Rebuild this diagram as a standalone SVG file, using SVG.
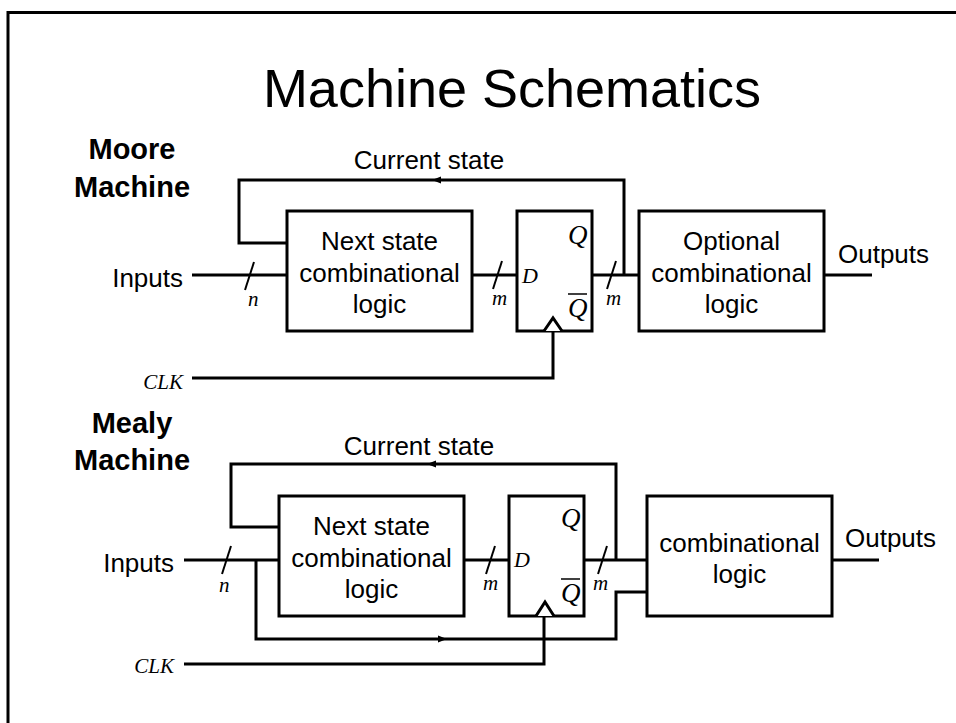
<svg xmlns="http://www.w3.org/2000/svg" width="956" height="723" viewBox="0 0 956 723">
<style>
.frame{fill:none;stroke:#000;stroke-width:3}
.box{fill:#fff;stroke:#000;stroke-width:3}
.w{fill:none;stroke:#000;stroke-width:3}
.sl{fill:none;stroke:#000;stroke-width:2}
.t{font-family:"Liberation Sans",Arial,sans-serif;font-size:26px;fill:#000}
.c{text-anchor:middle}
.r{text-anchor:end}
.b{font-family:"Liberation Sans",Arial,sans-serif;font-weight:bold;font-size:29px;fill:#000;text-anchor:middle}
.i{font-family:"Liberation Serif","Times New Roman",serif;font-style:italic;fill:#000}
.ah{fill:#000}
</style>
<rect width="956" height="723" fill="#fff"/>
<path class="frame" d="M8,723 V12.5 H956"/>
<text x="512" y="107" class="t c" style="font-size:54px">Machine Schematics</text>

<g id="moore">
  <g id="moore-label"><text x="132" y="159" class="b">Moore</text><text x="132" y="197" class="b">Machine</text></g>
  <g id="moore-connectors">
    <path class="w" d="M192,275 H287"/>
    <path class="w" d="M472,275 H517"/>
    <path class="w" d="M592,275 H639"/>
    <path class="w" d="M624,275 V180 H239 V243 H287"/>
    <path class="w" d="M192,378 H553 V331"/>
    <path class="w" d="M824,275 H872"/>
    <path class="ah" d="M432,180 L441,176.5 L441,183.5 Z"/>
    <path class="sl" d="M254,262 L245,290"/>
    <path class="sl" d="M502,261 L493,289"/>
    <path class="sl" d="M616,261 L607,289"/>
  </g>
  <g id="moore-inputs"><text x="183" y="287" class="t r">Inputs</text><text x="248" y="306" class="i" style="font-size:21px">n</text></g>
  <g id="moore-clk"><text x="183" y="389" class="i r" style="font-size:21px">CLK</text></g>
  <text x="429" y="169" class="t c">Current state</text>
  <text x="492" y="305" class="i" style="font-size:21px">m</text>
  <text x="606" y="305" class="i" style="font-size:21px">m</text>
  <g id="moore-next">
    <rect class="box" x="287" y="211" width="185" height="120"/>
    <text x="379.5" y="250" class="t c">Next state</text>
    <text x="379.5" y="282" class="t c">combinational</text>
    <text x="379.5" y="313" class="t c">logic</text>
  </g>
  <g id="moore-ff">
    <rect class="box" x="517" y="211" width="75" height="120"/>
    <path class="box" d="M544,331 L553,318 L562,331"/>
    <text x="522" y="283" class="i" style="font-size:22px">D</text>
    <text x="568" y="244" class="i" style="font-size:27px">Q</text>
    <text x="568" y="317" class="i" style="font-size:27px">Q</text>
    <path class="sl" d="M568,294 H587" style="stroke-width:1.5"/>
  </g>
  <g id="moore-out">
    <rect class="box" x="639" y="211" width="185" height="120"/>
    <text x="731.5" y="250" class="t c">Optional</text>
    <text x="731.5" y="282" class="t c">combinational</text>
    <text x="731.5" y="313" class="t c">logic</text>
  </g>
  <text x="838" y="263" class="t">Outputs</text>
</g>

<g id="mealy">
  <g id="mealy-label"><text x="132" y="433" class="b">Mealy</text><text x="132" y="470" class="b">Machine</text></g>
  <g id="mealy-connectors">
    <path class="w" d="M184,560 H279"/>
    <path class="w" d="M464,560 H509"/>
    <path class="w" d="M584,560 H647"/>
    <path class="w" d="M616,560 V464 H231 V527 H279"/>
    <path class="w" d="M256,560 V639 H616 V592 H647"/>
    <path class="w" d="M184,664 H544 V616"/>
    <path class="w" d="M832,560 H879"/>
    <path class="ah" d="M427,464 L436,460.5 L436,467.5 Z"/>
    <path class="ah" d="M447,639 L438,635.5 L438,642.5 Z"/>
    <path class="sl" d="M231,546 L222,574"/>
    <path class="sl" d="M495,546 L486,574"/>
    <path class="sl" d="M607,546 L598,574"/>
  </g>
  <g id="mealy-inputs"><text x="174" y="572" class="t r">Inputs</text><text x="219" y="592" class="i" style="font-size:21px">n</text></g>
  <g id="mealy-clk"><text x="174" y="673" class="i r" style="font-size:21px">CLK</text></g>
  <text x="419" y="455" class="t c">Current state</text>
  <text x="483" y="590" class="i" style="font-size:21px">m</text>
  <text x="593" y="590" class="i" style="font-size:21px">m</text>
  <g id="mealy-next">
    <rect class="box" x="279" y="496" width="185" height="120"/>
    <text x="371.5" y="535" class="t c">Next state</text>
    <text x="371.5" y="567" class="t c">combinational</text>
    <text x="371.5" y="598" class="t c">logic</text>
  </g>
  <g id="mealy-ff">
    <rect class="box" x="509" y="496" width="75" height="120"/>
    <path class="box" d="M536,616 L545,602 L554,616"/>
    <text x="514" y="567" class="i" style="font-size:22px">D</text>
    <text x="561" y="527" class="i" style="font-size:27px">Q</text>
    <text x="561" y="602" class="i" style="font-size:27px">Q</text>
    <path class="sl" d="M561,579 H580" style="stroke-width:1.5"/>
  </g>
  <g id="mealy-out">
    <rect class="box" x="647" y="496" width="185" height="120"/>
    <text x="739.5" y="552" class="t c">combinational</text>
    <text x="739.5" y="583" class="t c">logic</text>
  </g>
  <text x="845" y="547" class="t">Outputs</text>
</g>
</svg>
